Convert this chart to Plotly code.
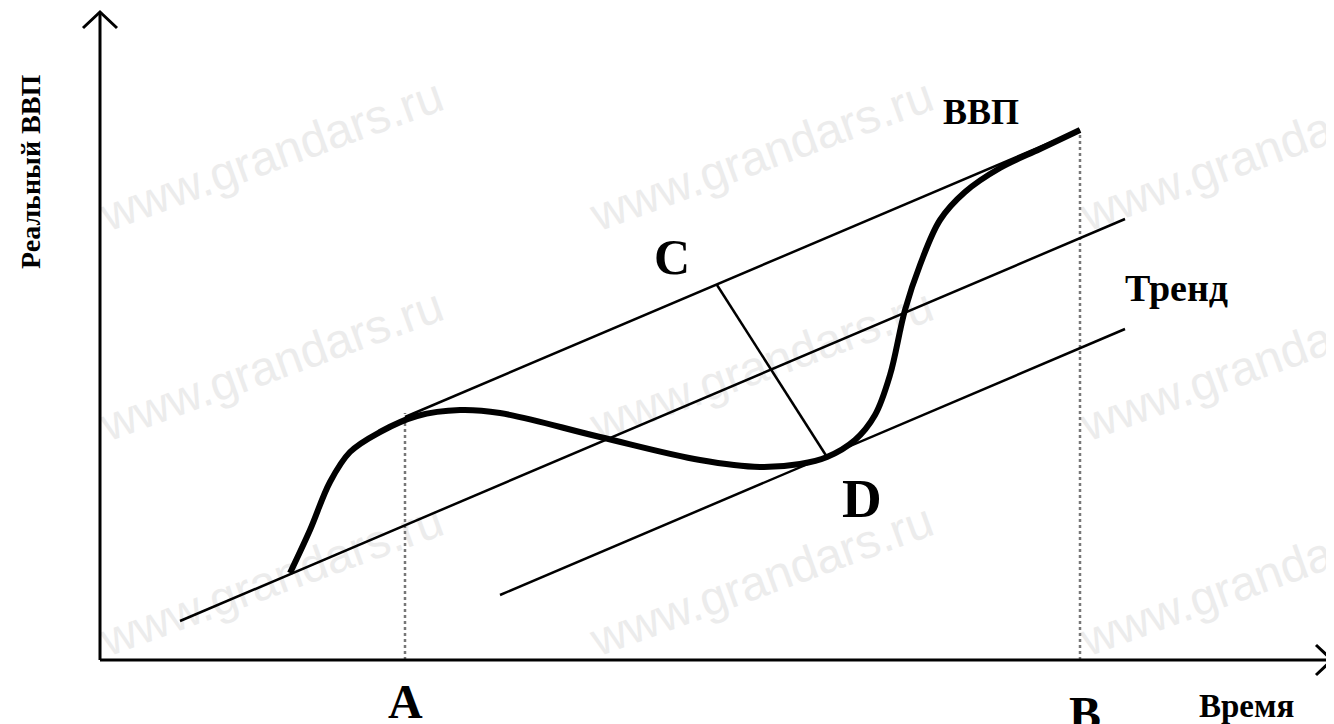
import plotly.graph_objects as go

# x = время, y = реальный ВВП (условные единицы, начало координат в углу осей)
gdp_time = [190, 210, 230, 250, 280, 317, 360, 400, 500, 600, 660, 700, 727,
            755, 775, 790, 805, 820, 840, 865, 900, 940, 980]
gdp_value = [87, 130, 178, 208, 228, 244, 250, 247, 223, 200, 193, 196, 203,
             220, 245, 285, 350, 395, 440, 468, 492, 511, 530]

trend_time = [80, 1025]
trend_value = [39, 441]
upper_time = [305, 980]
upper_value = [243, 530]
lower_time = [400, 1025]
lower_value = [65, 331]

cd_time = [617, 727]      # точки C и D
cd_value = [375, 203]

a_time, a_value = 305, 247   # момент A (пик)
b_time, b_value = 980, 526   # момент B

axis_x_end = 1232
axis_y_end = 648

SERIF = "Liberation Serif, Times New Roman, serif"

fig = go.Figure()

# watermark, drawn below the lines
wm_x = [170, 660, 1150]
wm_y = [510, 300, 85]
for wy in wm_y:
    for wx in wm_x:
        fig.add_shape(type="rect", x0=wx - 10, x1=wx + 10, y0=wy - 10, y1=wy + 10,
                      line=dict(width=0), fillcolor="rgba(0,0,0,0)", layer="below",
                      label=dict(text="www.grandars.ru", textangle=-20,
                                 textposition="middle center",
                                 font=dict(family="Liberation Sans, Arial", size=48,
                                           color="#ececec")))

# dotted verticals
fig.add_trace(go.Scatter(x=[a_time, a_time], y=[0, a_value], mode="lines",
                         line=dict(color="#777777", width=2.5, dash="dot")))
fig.add_trace(go.Scatter(x=[b_time, b_time], y=[0, b_value], mode="lines",
                         line=dict(color="#777777", width=2.5, dash="dot")))

# axes with open arrows
fig.add_trace(go.Scatter(x=[0, 0], y=[0, axis_y_end], mode="lines",
                         line=dict(color="black", width=3)))
fig.add_trace(go.Scatter(x=[-17, 0, 17], y=[axis_y_end - 16, axis_y_end, axis_y_end - 16],
                         mode="lines", line=dict(color="black", width=3)))
fig.add_trace(go.Scatter(x=[0, axis_x_end], y=[0, 0], mode="lines",
                         line=dict(color="black", width=3)))
fig.add_trace(go.Scatter(x=[axis_x_end - 16, axis_x_end, axis_x_end - 16], y=[15, 0, -15],
                         mode="lines", line=dict(color="black", width=3)))

# trend and parallel lines
for tx, ty in [(trend_time, trend_value), (upper_time, upper_value), (lower_time, lower_value)]:
    fig.add_trace(go.Scatter(x=tx, y=ty, mode="lines", line=dict(color="black", width=2.5)))

fig.add_trace(go.Scatter(x=cd_time, y=cd_value, mode="lines",
                         line=dict(color="black", width=2.5)))

# GDP curve
fig.add_trace(go.Scatter(x=gdp_time, y=gdp_value, mode="lines",
                         line=dict(color="black", width=6, shape="spline", smoothing=1.0)))

labels = [
    ("C", 572, 403, 50),
    ("D", 762, 162, 55),
    ("A", 305, -41, 48),
    ("B", 985, -53, 48),
    ("ВВП", 881, 548, 36),
    ("Тренд", 1076, 372, 38),
    ("Время", 1146, -46, 33),
]
for txt, lx, ly, sz in labels:
    fig.add_annotation(x=lx, y=ly, text=txt, showarrow=False,
                       font=dict(family=SERIF, size=sz, color="black", weight="bold"))

fig.add_annotation(x=-70, y=488, text="Реальный ВВП", showarrow=False, textangle=-90,
                   font=dict(family=SERIF, size=28, color="black", weight="bold"))

# page body has an 8px margin, so ranges are offset to put the origin at (100, 660)
fig.update_xaxes(visible=False, range=[-92, 1242], fixedrange=True)
fig.update_yaxes(visible=False, range=[-72, 652], fixedrange=True)
fig.update_layout(
    width=1334, height=724, margin=dict(l=0, r=0, t=0, b=0),
    plot_bgcolor="white", paper_bgcolor="white", showlegend=False,
    hovermode=False,
)

fig.write_html("out.html")
